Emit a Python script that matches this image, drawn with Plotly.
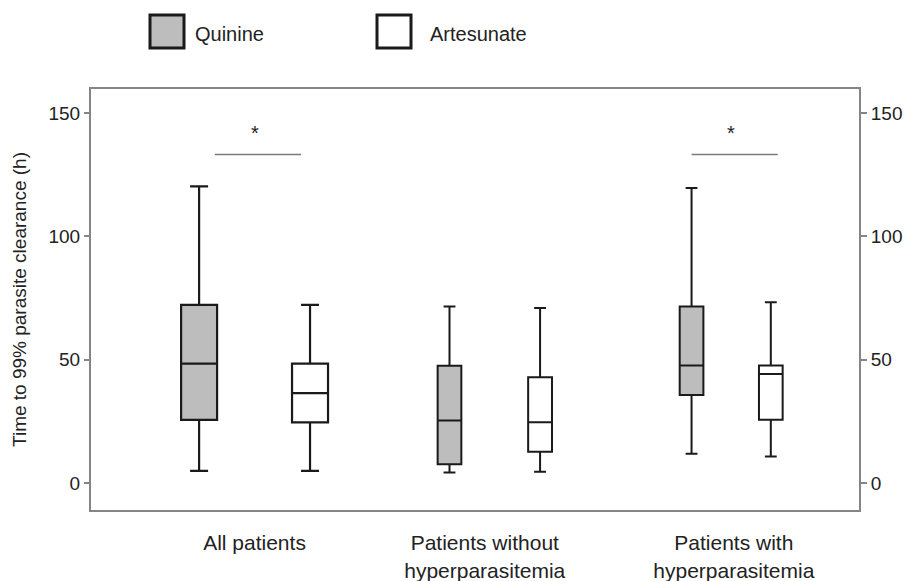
import plotly.graph_objects as go

# ---------------- data ----------------
groups = ["All patients", "Patients without<br>hyperparasitemia", "Patients with<br>hyperparasitemia"]
treatments = ["Quinine", "Artesunate"]

# per group: [Quinine, Artesunate]
lower_whisker = [[4.9, 4.9], [4.3, 4.6], [11.8, 10.7]]
q1_vals       = [[25.6, 24.6], [7.6, 12.7], [35.7, 25.6]]
median_vals   = [[48.4, 36.4], [25.3, 24.6], [47.6, 44.2]]
q3_vals       = [[72.2, 48.4], [47.5, 42.9], [71.5, 47.6]]
upper_whisker = [[120.2, 72.2], [71.5, 70.9], [119.6, 73.3]]

significant_groups = [0, 2]   # groups with a significant difference (*)
sig_bar_value = 133.1         # y value of the significance bar

y_tick_vals = [0, 50, 100, 150]

# ---------------- layout constants ----------------
group_centers = [1, 2, 3]
box_offsets = [[-0.2325, 0.2329], [-0.182, 0.198], [-0.1665, 0.166]]
box_widths = [[0.151, 0.151], [0.0994, 0.1], [0.0994, 0.0994]]
label_pos = [1.0, 1.966, 3.011]
sig_span = (-0.1666, 0.1951)
star_value = 142.0
y_range = [-10.95, 159.7]

fills = {"Quinine": "#bdbdbd", "Artesunate": "#ffffff"}
font_family = "Liberation Sans, Arial, sans-serif"
text_color = "#222222"
axis_color = "#858585"

W, H = 904, 581
ML, MR, MT, MB = 91, 45, 89, 71
PW, PH = W - ML - MR, H - MT - MB

fig = go.Figure()

for gi in range(len(groups)):
    for ti, tr in enumerate(treatments):
        fig.add_trace(go.Box(
            x=[group_centers[gi] + box_offsets[gi][ti]],
            q1=[q1_vals[gi][ti]],
            median=[median_vals[gi][ti]],
            q3=[q3_vals[gi][ti]],
            lowerfence=[lower_whisker[gi][ti]],
            upperfence=[upper_whisker[gi][ti]],
            width=box_widths[gi][ti],
            whiskerwidth=0.5,
            fillcolor=fills[tr],
            line=dict(color="#1a1a1a", width=2.2 if gi == 0 else 2),
            boxpoints=False,
            name=tr,
            showlegend=False,
            hoverinfo="skip",
        ))

# empty trace so the right-hand axis is drawn
fig.add_trace(go.Scatter(x=[None], y=[None], yaxis="y2", mode="markers",
                         showlegend=False, hoverinfo="skip"))

# significance bars and stars
for gi in significant_groups:
    c = group_centers[gi]
    fig.add_shape(type="line", xref="x", yref="y",
                  x0=c + sig_span[0], x1=c + sig_span[1],
                  y0=sig_bar_value, y1=sig_bar_value,
                  line=dict(color="#7a7a7a", width=1.5))
    fig.add_annotation(x=c, y=star_value, xref="x", yref="y", text="*",
                       showarrow=False, font=dict(size=20, color=text_color, family=font_family),
                       yanchor="middle")

# manual legend (large square swatches), pixel positions converted to paper coords
legend_items = [("Quinine", 150, 184, 193), ("Artesunate", 377, 411, 428)]
for name, x0, x1, tx in legend_items:
    fig.add_shape(type="rect", xref="paper", yref="paper",
                  x0=(x0 - ML) / PW, x1=(x1 - ML) / PW,
                  y0=(H - MB - 48) / PH, y1=(H - MB - 15) / PH,
                  fillcolor=fills[name], line=dict(color="#1a1a1a", width=3))
    fig.add_annotation(xref="paper", yref="paper",
                       x=(tx - ML) / PW, y=(H - MB - 34) / PH,
                       xanchor="left", yanchor="middle", showarrow=False,
                       text=name, font=dict(size=20, color=text_color, family=font_family))

fig.update_layout(
    width=W, height=H,
    margin=dict(l=ML, r=MR, t=MT, b=MB, autoexpand=False),
    paper_bgcolor="white", plot_bgcolor="white",
    font=dict(family=font_family, color=text_color),
    showlegend=False,
    xaxis=dict(
        range=[0.314, 3.536],
        tickvals=label_pos, ticktext=groups,
        ticks="", showgrid=False, zeroline=False,
        showline=True, mirror=True, linecolor=axis_color, linewidth=2,
        tickfont=dict(size=21, color=text_color),
        ticklabelstandoff=13,
    ),
    yaxis=dict(
        range=y_range,
        tickvals=y_tick_vals,
        ticks="outside", ticklen=5, tickwidth=1.5, tickcolor=axis_color,
        showgrid=False, zeroline=False,
        showline=True, linecolor=axis_color, linewidth=2,
        tickfont=dict(size=19, color=text_color),
        title=dict(text="Time to 99% parasite clearance (h)",
                   font=dict(size=19, color=text_color), standoff=17),
    ),
    yaxis2=dict(
        range=y_range,
        tickvals=y_tick_vals,
        overlaying="y", side="right", anchor="x",
        ticks="outside", ticklen=6, tickwidth=1.5, tickcolor=axis_color,
        showgrid=False, zeroline=False,
        showline=True, linecolor=axis_color, linewidth=2,
        tickfont=dict(size=19, color=text_color),
    ),
)

fig.write_html("out.html", config={"displayModeBar": False},
               post_script="document.body.style.margin='0';")
